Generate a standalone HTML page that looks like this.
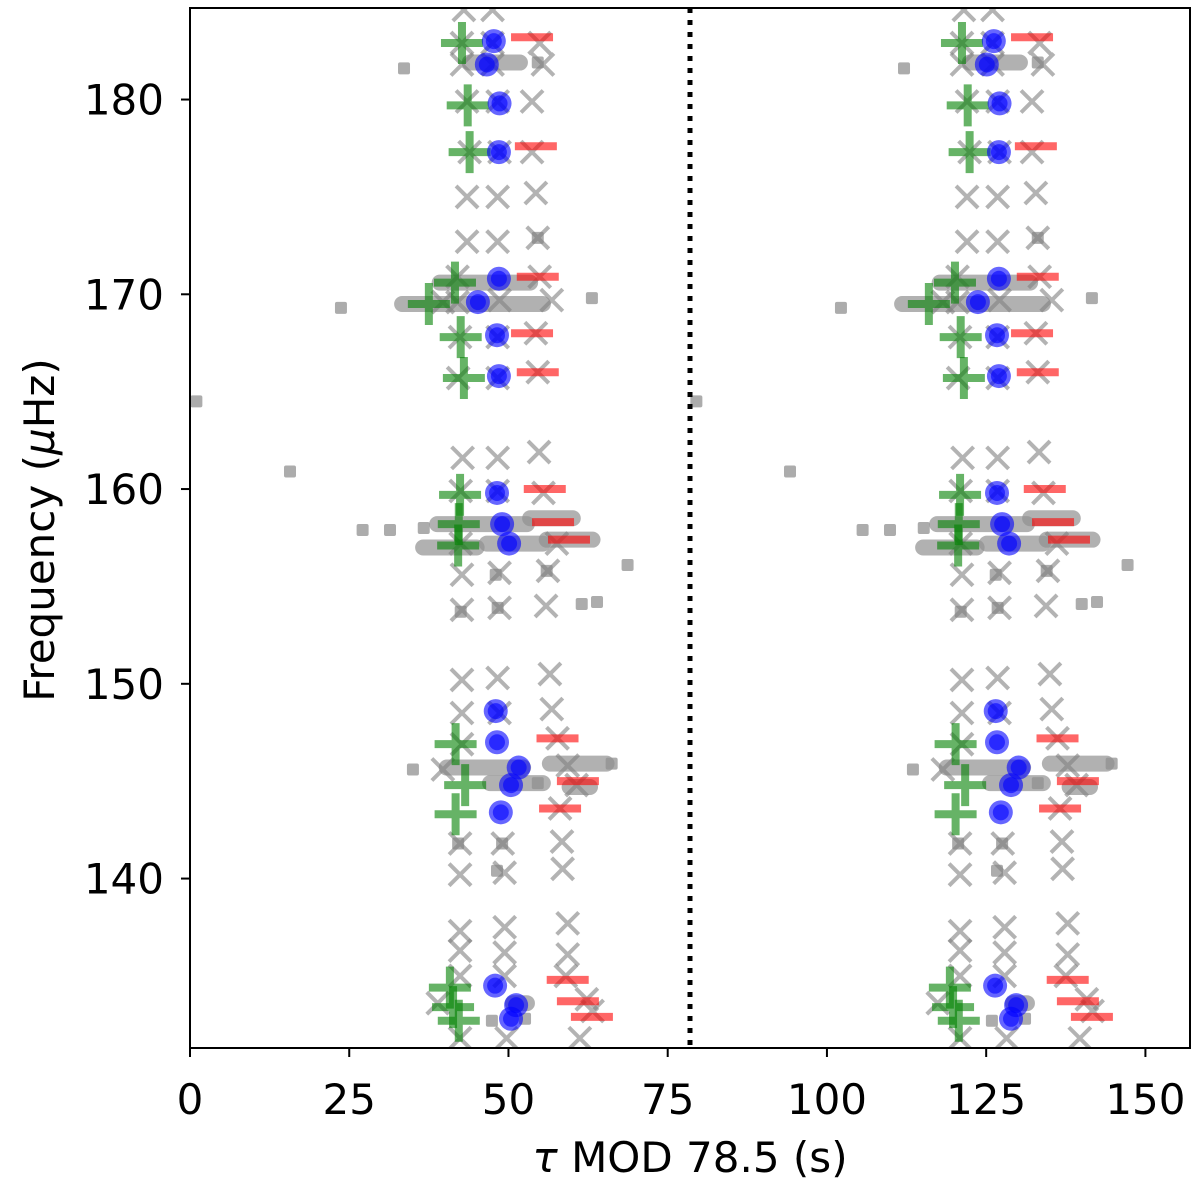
<!DOCTYPE html>
<html><head><meta charset="utf-8"><style>
body{margin:0;background:#fff}
svg{display:block;font-family:"DejaVu Sans","Liberation Sans",sans-serif}
</style></head><body>
<svg id="chart" width="1200" height="1189" viewBox="0 0 1200 1189" xmlns="http://www.w3.org/2000/svg">
<defs><clipPath id="pc"><rect x="190" y="8" width="1000" height="1040"/></clipPath></defs>
<g id="marks" clip-path="url(#pc)"></g>
<g id="axes"></g>
<text x="690" y="1172" text-anchor="middle" font-size="42"><tspan font-style="italic">τ</tspan> MOD 78.5 (s)</text>
<text transform="translate(54,530) rotate(-90)" text-anchor="middle" font-size="42">Frequency (<tspan font-style="italic">μ</tspan>Hz)</text>
</svg>
<script>
const PERIOD = 78.5;
const xTicks = [0,25,50,75,100,125,150];
const yTicks = [140,150,160,170,180];
const squares = [[33.6,181.6],[23.7,169.3],[63.1,169.8],[1,164.5],[15.7,160.9],[27.1,157.9],[31.4,157.9],[36.7,158.0],[68.7,156.1],[61.5,154.1],[63.9,154.2],[35.0,145.6],[66.2,145.9],[54.6,144.9],[47.4,132.7],[52.6,132.8],[54.6,181.9],[54.6,172.9],[48.0,155.6],[56.0,155.8],[42.5,153.7],[48.3,153.9],[42.1,141.8],[49.0,141.8],[48.2,140.4]];
const smearStart = [43.9,39.2,33.3,38.8,53.4,36.6,46.6,56.0,40.3,47.1,56.5,59.6,50.7];
const smearEnd   = [51.8,53.4,55.4,52.9,60.1,45.0,55.4,63.2,52.3,55.4,65.4,62.8,52.9];
const smearFreq  = [181.9,170.6,169.5,158.2,158.5,157.0,157.2,157.4,145.7,144.9,145.9,144.7,133.6];
const crosses = [[43,184.6],[47.5,184.6],[42.7,182.9],[47.5,182.9],[54.9,182.9],[42.7,181.8],[47.5,181.8],[55.4,181.8],[43.5,179.9],[48.3,179.9],[53.7,179.9],[43.9,177.3],[48.6,177.3],[53.7,177.3],[43.5,175.0],[48.3,175.0],[54.3,175.2],[43.5,172.7],[48.3,172.7],[54.6,172.9],[54.9,170.9],[42,170.9],[39.7,169.6],[48.6,169.7],[56.8,169.7],[42,169.6],[42.4,167.8],[48.3,167.8],[54.3,168.0],[42.1,165.7],[48.3,165.7],[54.6,166.0],
[42.8,161.6],[48.3,161.6],[54.8,161.9],[42.5,159.9],[48.3,159.9],[55.5,159.8],[42.5,157.2],[57.6,157.2],[42.7,155.6],[48.6,155.7],[56.2,155.8],[42.7,153.8],[48.6,153.9],[55.9,154.0],
[42.7,150.2],[48.3,150.3],[56.5,150.5],[42.7,148.5],[48.6,148.5],[56.8,148.7],[42.7,146.9],[57.7,147.2],[39.7,145.6],[59.3,145.8],[60.7,144.8],[58.1,143.6],[42.4,141.8],[49.1,141.8],[58.4,141.9],[42.4,140.2],[49.4,140.3],[58.5,140.5],
[42.4,137.3],[49.4,137.5],[59.3,137.7],[42.4,136.3],[49.4,136.2],[59.3,136.1],[42.4,135.0],[49.4,135.0],[59.0,135.0],[38.9,133.6],[62.3,133.8],[63.2,133.2],[42.4,131.8],[49.7,131.8],[61.2,131.8]];
const blueTau  = [47.7,46.6,48.6,48.5,48.5,45.2,48.2,48.5,48.2,49.0,50.1,48.0,48.2,51.6,50.4,48.8,47.9,51.2,50.4];
const blueFreq = [183.0,181.8,179.8,177.3,170.8,169.6,167.9,165.8,159.8,158.2,157.2,148.6,147.0,145.7,144.8,143.4,134.5,133.5,132.8];
const greenTau  = [42.7,43.6,43.9,41.6,37.5,42.5,43.0,42.4,42.2,42.1,41.7,43.2,41.7,40.8,41.3,42.2];
const greenFreq = [182.9,179.7,177.3,170.6,169.5,167.8,165.7,159.7,158.2,157.1,146.9,144.8,143.3,134.4,133.4,132.7];
const redTau  = [53.7,54.3,54.6,53.7,54.6,55.7,57.0,59.5,57.7,60.9,58.1,59.3,60.9,63.1];
const redFreq = [183.2,177.6,170.9,168.0,166.0,160.0,158.3,157.4,147.2,145.0,143.6,134.8,133.7,132.9];

const X0=190, X1=1190, Y0=8, Y1=1048;
const xMin=0, xMax=157, yMin=131.3, yMax=184.7;
const sx = v => X0 + (v - xMin) / (xMax - xMin) * (X1 - X0);
const sy = v => Y1 - (v - yMin) / (yMax - yMin) * (Y1 - Y0);
const NS="http://www.w3.org/2000/svg";
const marks=document.getElementById('marks'), axes=document.getElementById('axes');
function mk(tag, attrs, parent){const e=document.createElementNS(NS,tag);for(const k in attrs)e.setAttribute(k,attrs[k]);parent.appendChild(e);return e;}
const offsets=[0,PERIOD];

offsets.forEach(o=>{
  for(let i=0;i<smearStart.length;i++){
    const e=mk('line',{x1:sx(smearStart[i]+o),x2:sx(smearEnd[i]+o),y1:sy(smearFreq[i]),y2:sy(smearFreq[i]),stroke:'#909090','stroke-opacity':0.7,'stroke-width':16,'stroke-linecap':'round'},marks);
    
    
  }
  squares.forEach(p=>{
    const e=mk('rect',{x:sx(p[0]+o)-6,y:sy(p[1])-6,width:12,height:12,rx:2,fill:'#909090','fill-opacity':0.75},marks);
    
    
  });
  crosses.forEach(p=>{
    const cx=sx(p[0]+o), cy=sy(p[1]), h=11;
    const e=mk('path',{d:`M${cx-h},${cy-h}L${cx+h},${cy+h}M${cx-h},${cy+h}L${cx+h},${cy-h}`,stroke:'#808080','stroke-opacity':0.6,'stroke-width':4,fill:'none'},marks);
    
    
  });
  for(let i=0;i<greenTau.length;i++){
    const cx=sx(greenTau[i]+o), cy=sy(greenFreq[i]), h=21;
    const e=mk('path',{d:`M${cx-h},${cy}L${cx+h},${cy}M${cx},${cy-h}L${cx},${cy+h}`,stroke:'#008000','stroke-opacity':0.6,'stroke-width':8,fill:'none'},marks);
    
    
  }
  for(let i=0;i<redTau.length;i++){
    const cx=sx(redTau[i]+o), cy=sy(redFreq[i]);
    const e=mk('line',{x1:cx-21,x2:cx+21,y1:cy,y2:cy,stroke:'#ff0000','stroke-opacity':0.6,'stroke-width':8},marks);
    
    
  }
  for(let i=0;i<blueTau.length;i++){
    const cx=sx(blueTau[i]+o), cy=sy(blueFreq[i]);
    const e=mk('circle',{cx:cx,cy:cy,r:12,fill:'#0000ff','fill-opacity':0.6},marks);
    
    
    const e2=mk('circle',{cx:cx,cy:cy,r:8,fill:'#0000ff','fill-opacity':0.6},marks);
    
    
  }
});
const dl=mk('line',{x1:sx(PERIOD),x2:sx(PERIOD),y1:Y0,y2:Y1,stroke:'#000','stroke-width':5,'stroke-dasharray':'5 7'},marks);



const fr=mk('rect',{x:X0,y:Y0,width:X1-X0,height:Y1-Y0,fill:'none',stroke:'#000','stroke-width':2},axes);


xTicks.forEach(t=>{
  const x=sx(t);
  const l=mk('line',{x1:x,x2:x,y1:Y1,y2:Y1+9,stroke:'#000','stroke-width':2},axes);
  
  
  const tx=mk('text',{x:x,y:1114,'text-anchor':'middle','font-size':42,fill:'#000'},axes);
  tx.textContent=t;
  
  
});
yTicks.forEach(t=>{
  const y=sy(t);
  const l=mk('line',{x1:X0-9,x2:X0,y1:y,y2:y,stroke:'#000','stroke-width':2},axes);
  
  
  const tx=mk('text',{x:164,y:y+15,'text-anchor':'end','font-size':42,fill:'#000'},axes);
  tx.textContent=t;
  
  
});
</script>
</body></html>
